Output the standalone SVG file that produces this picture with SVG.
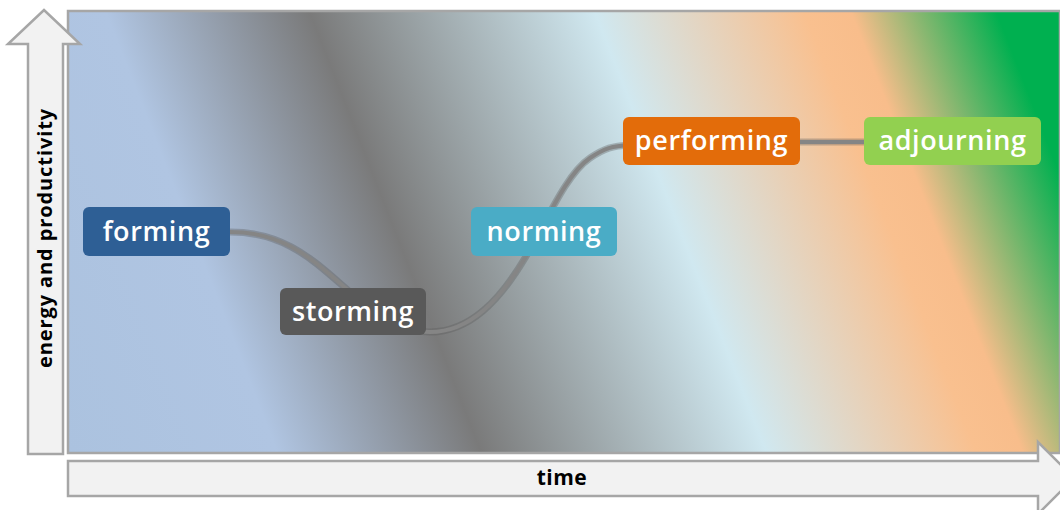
<svg xmlns="http://www.w3.org/2000/svg" width="1060" height="510" viewBox="0 0 1060 510">
<defs>
<linearGradient id="bg" gradientUnits="userSpaceOnUse" x1="68" y1="453" x2="1079" y2="59">
<stop offset="0" stop-color="#abc2df"/>
<stop offset="0.18" stop-color="#b0c5e2"/>
<stop offset="0.355" stop-color="#7a7a7a"/>
<stop offset="0.6" stop-color="#d0e8f0"/>
<stop offset="0.78" stop-color="#f9c08f"/>
<stop offset="0.82" stop-color="#f8bd8b"/>
<stop offset="0.945" stop-color="#00b050"/>
<stop offset="1" stop-color="#00b050"/>
</linearGradient>
<style>
.axis{fill:#f2f2f2;stroke:#a6a6a6;stroke-width:2.5}
.axlbl{font-family:"Open Sans","Noto Sans","DejaVu Sans",sans-serif;font-weight:700;fill:#000}
.lbl{font-family:"Open Sans","Noto Sans","DejaVu Sans",sans-serif;font-weight:600;font-size:27px;letter-spacing:0.6px;fill:#fff;text-anchor:middle}
.conn{fill:none;stroke:#858585;stroke-width:4;stroke-linecap:round}
.connsh{fill:none;stroke:#5a5a5a;stroke-opacity:0.35;stroke-width:7;stroke-linecap:round}
</style>
</defs>
<rect x="68" y="11" width="992" height="442" fill="url(#bg)" stroke="#a6a6a6" stroke-width="2.5"/>
<g id="y-axis">
<path class="axis" d="M28 454 L28 44 L8 44 L44 10 L80 44 L63 44 L63 454 Z"/>
<text class="axlbl" font-size="20" letter-spacing="0.9" text-anchor="middle" transform="translate(52,238) rotate(-90)">energy and productivity</text>
</g>
<g id="x-axis">
<path class="axis" d="M68 461 L1038 461 L1038 442 L1074 478 L1038 514 L1038 496 L68 496 Z"/>
<text class="axlbl" font-size="21" letter-spacing="0.5" x="562" y="485" text-anchor="middle">time</text>
</g>
<g id="connectors">
<path class="connsh" d="M225 232 C285 230 315 262 350 292 C385 322 400 332 430 332 C470 332 500 300 525 258 C545 225 565 175 590 158 C605 148 612 146 630 145 M800 142 L864 142"/>
<path class="conn" d="M225 232 C285 230 315 262 350 292 C385 322 400 332 430 332 C470 332 500 300 525 258 C545 225 565 175 590 158 C605 148 612 146 630 145 M800 142 L864 142"/>
</g>
<g id="forming">
<rect x="83" y="207" width="147" height="49" rx="6" fill="#2e5f95"/>
<text class="lbl" x="156.5" y="241">forming</text>
</g>
<g id="storming">
<rect x="280" y="288" width="146" height="47" rx="6" fill="#595959"/>
<text class="lbl" x="353" y="321">storming</text>
</g>
<g id="norming">
<rect x="471" y="207" width="146" height="49" rx="6" fill="#4aacc6"/>
<text class="lbl" x="544" y="241">norming</text>
</g>
<g id="performing">
<rect x="623" y="117" width="177" height="48" rx="6" fill="#e36c0a"/>
<text class="lbl" x="711.5" y="150">performing</text>
</g>
<g id="adjourning">
<rect x="864" y="117" width="177" height="48" rx="6" fill="#92d050"/>
<text class="lbl" x="952.5" y="150">adjourning</text>
</g>
</svg>
